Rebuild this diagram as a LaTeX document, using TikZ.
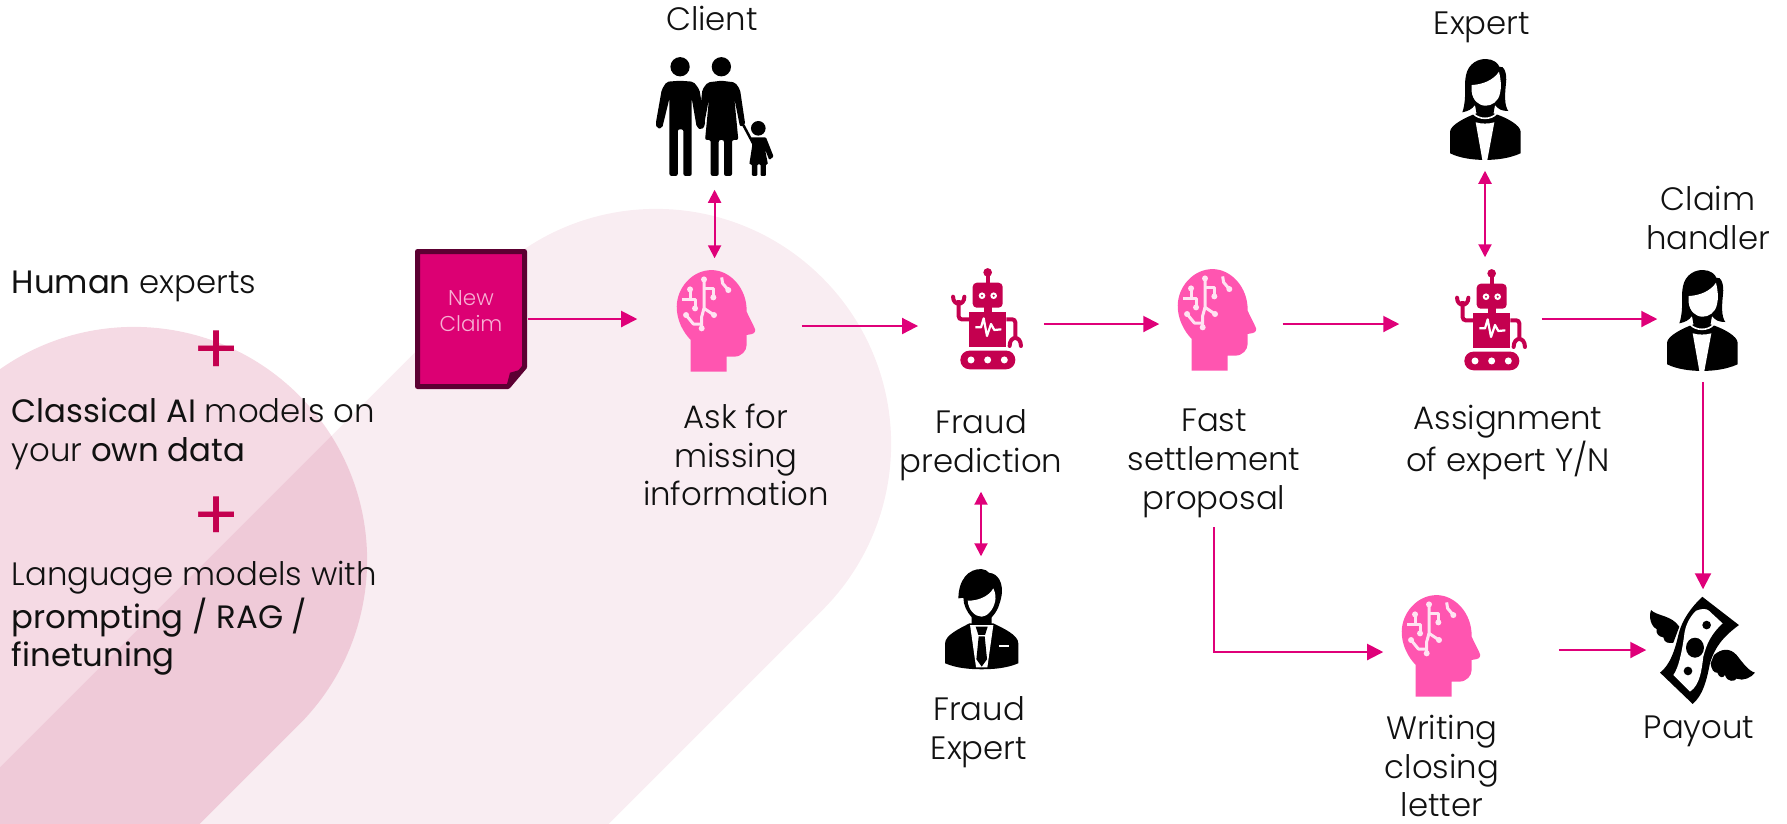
\documentclass[tikz,border=0pt]{standalone}
\usepackage{fontspec}
\setmainfont{Poppins Light}
\newfontfamily\regfont{Poppins}
\newcommand{\reg}[1]{{\regfont #1}}
\usetikzlibrary{arrows.meta}
\definecolor{arrowpink}{HTML}{DF0079}
\definecolor{brainpink}{HTML}{FF55B0}
\definecolor{tracepink}{HTML}{FFE3F2}
\definecolor{robotred}{HTML}{C4004F}
\definecolor{docfill}{HTML}{DC0073}
\definecolor{docdark}{HTML}{5C0032}
\definecolor{doctext}{HTML}{F7B0D3}
\definecolor{paleband}{HTML}{F9EDF2}
\definecolor{darkband}{HTML}{C3215D}
\definecolor{inkblack}{HTML}{111111}
\tikzset{
	zm/.style={x=0.0033333cm, y=-0.0033333cm},
	nd/.style 2 args={inner sep=0pt, minimum width=#1, minimum height=#2},
	lbl/.style={inner sep=0pt, align=center, text=inkblack, font=\fontsize{9.2}{11}\selectfont},
	side/.style={inner sep=0pt, anchor=west, align=left, text=inkblack, font=\fontsize{9.2}{11}\selectfont},
	plusmark/.style={inner sep=0pt, text=robotred, font=\regfont\fontsize{20}{20}\selectfont},
	arr/.style={draw=arrowpink, line width=0.02cm, -{Triangle[length=0.16cm, width=0.16cm]}},
	biarr/.style={draw=arrowpink, line width=0.02cm, {Triangle[length=0.13cm, width=0.13cm]}-{Triangle[length=0.13cm, width=0.13cm]}},
	pics/headicon/.style={code={
		\begin{scope}[zm, shift={(-948,-300)}]
		\fill[brainpink] (872,455) -- (980,455) -- (980,410) -- (1003,410) .. controls (1025,410) and (1040,392) .. (1040,375) -- (1040,345) -- (1056,342) .. controls (1066,340) and (1068,330) .. (1063,322) -- (1040,275) .. controls (1042,205) and (990,150) .. (935,150) .. controls (875,150) and (830,205) .. (830,260) .. controls (830,300) and (848,335) .. (872,360) -- cycle;
		\draw[tracepink, line width=0.03cm, line join=round] (912,178) -- (912,265) -- (942,285);
		\draw[tracepink, line width=0.03cm, line join=round] (912,265) -- (905,290) -- (905,325);
		\draw[tracepink, line width=0.03cm, line join=round] (858,285) -- (880,312) -- (905,312);
		\draw[tracepink, line width=0.03cm, line join=round] (912,205) -- (940,205) -- (940,232);
		\draw[tracepink, line width=0.03cm, line join=round] (870,208) -- (870,238) -- (845,238);
		\draw[tracepink, line width=0.03cm, line join=round] (870,238) -- (885,238) -- (885,265);
		\draw[tracepink, line width=0.03cm, line join=round] (965,172) -- (968,190) -- (985,210);
		\foreach \dx/\dy in {912/178, 942/285, 905/325, 858/285, 940/232, 870/208, 885/265, 985/210}
			\fill[tracepink] (\dx,\dy) circle[radius=9];
		\end{scope}
	}},
	pics/roboticon/.style={code={
		\begin{scope}[zm, shift={(-170,-210)}]
		\fill[robotred] (172,67) circle[radius=13];
		\fill[robotred] (167,70) rectangle (178,100);
		\fill[robotred, rounded corners=0.04cm] (127,98) rectangle (217,173);
		\fill[robotred] (160,170) rectangle (185,186);
		\fill[robotred] (117,185) rectangle (228,290);
		\draw[robotred, line width=0.04cm, rounded corners=0.03cm] (117,208) -- (85,208) -- (85,150);
		\draw[robotred, line width=0.04cm, line cap=round] (68,140) .. controls (68,168) and (102,168) .. (102,140);
		\draw[robotred, line width=0.04cm, rounded corners=0.03cm] (228,208) -- (255,208) -- (255,265);
		\draw[robotred, line width=0.04cm, line cap=round] (238,288) .. controls (238,256) and (272,256) .. (272,288);
		\fill[robotred, rounded corners=0.09cm] (90,302) rectangle (255,358);
		\foreach \ex in {155,190} {
			\fill[white] (\ex,137) circle[radius=10];
			\fill[robotred] (\ex,137) circle[radius=3.5];
		}
		\foreach \wx in {122,172,222}
			\fill[white] (\wx,330) circle[radius=10.5];
		\draw[white, line width=0.022cm, line join=round] (135,232) -- (152,232) -- (160,205) -- (170,258) -- (182,222) -- (192,240) -- (213,238);
		\end{scope}
	}},
	pics/familyicon/.style={code={
		\begin{scope}[zm, shift={(-224,-240)}]
		\fill (120,110) circle[radius=29];
		\fill (244,110) circle[radius=29];
		\fill (355,295) circle[radius=22];
		\fill[rounded corners=0.02cm] (120,152) -- (160,155) -- (178,178) -- (196,285) -- (184,300) -- (170,292) -- (155,205) -- (155,438) -- (130,438) -- (130,298) -- (113,298) -- (113,438) -- (88,438) -- (88,205) -- (66,295) -- (50,295) -- (47,280) -- (65,178) -- (80,155) -- cycle;
		\fill[rounded corners=0.02cm] (244,152) -- (285,157) -- (300,178) -- (316,285) -- (300,290) -- (283,205) -- (295,330) -- (276,330) -- (276,438) -- (252,438) -- (252,330) -- (236,330) -- (236,438) -- (212,438) -- (212,330) -- (195,330) -- (207,205) -- (190,295) -- (175,290) -- (187,178) -- (203,157) -- cycle;
		\draw[line width=0.025cm] (310,285) -- (342,345);
		\fill[rounded corners=0.01cm] (332,322) -- (378,322) -- (401,380) -- (388,390) -- (375,358) -- (384,403) -- (378,403) -- (378,438) -- (362,438) -- (362,403) -- (352,403) -- (352,438) -- (336,438) -- (336,403) -- (328,403) -- (337,345) -- cycle;
		\end{scope}
	}},
	pics/womanicon/.style={code={
		\begin{scope}[zm, shift={(-165,-180)}]
		\fill (60,310) -- (60,245) .. controls (60,225) and (110,200) .. (140,190) -- (190,190) .. controls (225,200) and (272,225) .. (272,245) -- (272,310) .. controls (240,325) and (200,330) .. (165,330) .. controls (130,330) and (90,325) .. (60,310) -- cycle;
		\draw[white, line width=0.016cm] (130,190) .. controls (145,210) and (185,210) .. (200,190);
		\fill (97,187) .. controls (112,140) and (100,110) .. (108,75) .. controls (115,40) and (145,25) .. (170,27) .. controls (190,27) and (205,40) .. (208,50) .. controls (222,45) and (232,70) .. (228,100) .. controls (225,130) and (222,165) .. (235,183) .. controls (215,183) and (205,178) .. (195,165) -- (190,193) .. controls (175,203) and (155,203) .. (140,193) -- (135,165) .. controls (125,178) and (115,183) .. (97,187) -- cycle;
		\fill[white] (125,105) .. controls (160,103) and (190,90) .. (207,65) .. controls (213,90) and (215,110) .. (210,130) .. controls (205,155) and (185,167) .. (167,167) .. controls (145,167) and (128,150) .. (125,125) -- cycle;
		\fill[white] (137,217) .. controls (155,222) and (175,222) .. (193,217) -- (172,330) -- (157,330) -- cycle;
		\end{scope}
	}},
	pics/manicon/.style={code={
		\begin{scope}[zm, shift={(-155,-180)}]
		\fill (45,310) -- (45,250) .. controls (45,225) and (90,205) .. (118,190) -- (190,190) .. controls (220,205) and (265,225) .. (265,250) -- (265,310) .. controls (230,325) and (190,328) .. (155,328) .. controls (120,328) and (80,325) .. (45,310) -- cycle;
		\fill[white] (120,195) -- (190,195) -- (172,322) -- (138,322) -- cycle;
		\fill (137,200) -- (173,200) -- (165,225) -- (145,225) -- cycle;
		\fill (146,229) -- (164,229) -- (171,298) -- (155,320) -- (139,298) -- cycle;
		\fill[white] (207,254) rectangle (237,262);
		\fill (85,115) .. controls (85,60) and (115,25) .. (155,27) .. controls (165,27) and (172,33) .. (177,38) .. controls (205,40) and (220,70) .. (215,105) .. controls (210,130) and (205,150) .. (185,172) -- (185,192) -- (125,192) -- (125,172) .. controls (110,155) and (100,135) .. (100,113) -- cycle;
		\fill[white] (113,122) .. controls (145,122) and (175,110) .. (190,85) .. controls (197,100) and (198,115) .. (195,125) .. controls (190,150) and (170,170) .. (155,170) .. controls (135,170) and (115,150) .. (113,122) -- cycle;
		\end{scope}
	}},
	pics/moneyicon/.style={code={
		\begin{scope}[zm, shift={(-187,-210)}]
		\fill (187,50) -- (297,135) .. controls (250,170) and (225,200) .. (210,250) .. controls (200,300) and (190,345) .. (158,372) -- (60,278) .. controls (90,255) and (105,210) .. (115,165) .. controls (125,120) and (155,80) .. (187,50) -- cycle;
		\fill[white] (168,92) .. controls (185,85) and (200,85) .. (207,92) -- (248,130) .. controls (215,160) and (200,190) .. (190,230) .. controls (185,270) and (180,315) .. (150,335) -- (100,285) .. controls (115,265) and (125,220) .. (132,170) .. controls (135,135) and (150,110) .. (168,92) -- cycle;
		\fill (165,203) ellipse[x radius=27, y radius=30];
		\fill (200,135) circle[radius=13];
		\fill (144,273) circle[radius=13];
		\fill (33,90) .. controls (50,108) and (95,105) .. (118,140) -- (100,188) .. controls (88,190) and (72,190) .. (70,172) .. controls (55,170) and (47,160) .. (50,147) .. controls (33,140) and (25,110) .. (33,90) -- cycle;
		\fill (222,225) .. controls (245,205) and (270,203) .. (290,225) .. controls (310,250) and (325,272) .. (345,278) .. controls (335,292) and (310,305) .. (290,296) .. controls (285,305) and (262,308) .. (255,285) .. controls (250,295) and (238,295) .. (232,278) .. controls (222,280) and (214,268) .. (212,250) -- cycle;
		\end{scope}
	}},
}
\begin{document}
\begin{tikzpicture}[x=0.01cm, y=-0.01cm]
	\useasboundingbox (0,0) rectangle (1787,823);

	\draw[paleband, line width=4.7cm, line cap=round] (656,444) -- (-100,1200);
	\draw[darkband, draw opacity=0.167, line width=4.66cm, line cap=round] (134,560) -- (-300,994);

	\draw[docdark, fill=docfill, line width=0.05cm, line join=round] (417.5,251.5) -- (524.5,251.5) -- (524.5,367) -- (508,386.5) -- (417.5,386.5) -- cycle;
	\fill[docdark] (526.7,368) -- (510,372.7) -- (506,388) -- cycle;

	\node[nd={1.12cm}{1.40cm}] (claim) at (471,319) {};
	\node[nd={1.63cm}{1.26cm}] (ask) at (719.5,322) {};
	\node[nd={1.244cm}{1.20cm}] (fraud) at (981,326) {};
	\node[nd={1.22cm}{1.20cm}] (fast) at (1221,324) {};
	\node[nd={1.41cm}{1.32cm}] (assign) at (1470.5,324) {};
	\node[nd={0.90cm}{1.24cm}] (handler) at (1703,319) {};
	\node[nd={1.30cm}{1.38cm}] (client) at (714.6,120) {};
	\node[nd={0.90cm}{1.16cm}] (expert) at (1485,112) {};
	\node[nd={0.90cm}{1.23cm}] (fraudexp) at (981,618.5) {};
	\node[nd={1.74cm}{1.20cm}] (writing) at (1471,652) {};
	\node[nd={1.12cm}{1.20cm}] (payout) at (1703,650) {};

	\pic at (716,320) {headicon};
	\pic at (1217,319) {headicon};
	\pic at (1441,645) {headicon};
	\pic at (987,320) {roboticon};
	\pic at (1491,321) {roboticon};
	\pic at (714.7,110) {familyicon};
	\pic at (1485,110) {womanicon};
	\pic at (1702,321) {womanicon};
	\pic at (981.7,620) {manicon};
	\pic at (1702.3,650) {moneyicon};

	\node[inner sep=0pt, align=center, text=doctext, font=\fontsize{6.1}{7.6}\selectfont] (claimlbl) at (471,311) {New\\Claim};
	\node[lbl] (clientlbl) at (712,18) {Client};
	\node[lbl] (expertlbl) at (1482,27.5) {Expert};
	\node[lbl] (handlerlbl) at (1708,218) {Claim\\handler};
	\node[lbl] (asklbl) at (736,455) {Ask for\\missing\\information};
	\node[lbl, inner ysep=0.10cm] (fraudlbl) at (981,445.5) {Fraud\\prediction};
	\node[lbl, inner ysep=0.09cm] (fastlbl) at (1214,463.5) {Fast\\settlement\\proposal};
	\node[lbl] (assignlbl) at (1508,442.5) {Assignment\\of expert Y/N};
	\node[lbl] (fraudexplbl) at (979,732) {Fraud\\Expert};
	\node[lbl] (writinglbl) at (1442,766) {Writing\\closing\\letter};
	\node[lbl] (payoutlbl) at (1699,731.5) {Payout};

	\node[side] (human) at (11,286.5) {\reg{Human} experts};
	\node[plusmark] (plusa) at (217,352.5) {+};
	\node[side] (classical) at (11,433.5) {\reg{Classical AI} models on\\your \reg{own data}};
	\node[plusmark] (plusb) at (217,519) {+};
	\node[side] (language) at (11,618.5) {Language models with\\\reg{prompting / RAG /}\\\reg{finetuning}};

	\draw[arr] (claim.east) -- (claim.east -| ask.west);
	\draw[arr] (ask.east |- fraud.west) -- (fraud.west);
	\draw[arr] (fraud.east |- fast.west) -- (fast.west);
	\draw[arr] (fast.east) -- (assign.west);
	\draw[arr] (assign.east |- handler.west) -- (handler.west);
	\draw[arr] (handler.south) -- (payout.north);
	\draw[arr] (fastlbl.south) |- (writing.west);
	\draw[arr] (writing.east |- payout.west) -- (payout.west);

	\draw[biarr] (client.south) -- (client.south |- ask.north);
	\draw[biarr] (expert.south) -- (expert.south |- assign.north);
	\draw[biarr] (fraudlbl.south) -- (fraudexp.north);
\end{tikzpicture}
\end{document}
